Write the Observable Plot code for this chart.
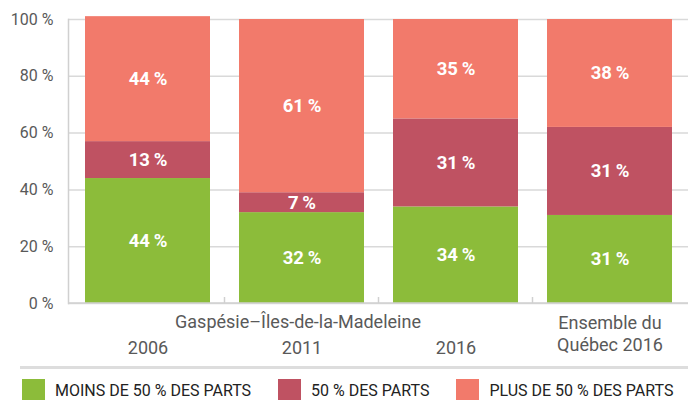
<!DOCTYPE html>
<html><head><meta charset="utf-8">
<script src="https://cdn.jsdelivr.net/npm/d3@7"></script>
<script src="https://cdn.jsdelivr.net/npm/@observablehq/plot@0.6"></script>
<style>
body{margin:0;background:#fff;font-family:Roboto,sans-serif;width:688px;overflow:hidden}
.sep{margin-left:20px;border-top:3px solid #ddd;margin-top:4px}
.legend{display:flex;gap:27px;padding-left:22px;margin-top:10px;align-items:center}
.item{display:flex;align-items:center;gap:10px;font-size:16px;color:#222}
.sw{width:23px;height:23px}
</style></head><body>
<div id="chart"></div>
<div class="sep"></div>
<div class="legend" id="legend"></div>
<script>
const categories = ["2006", "2011", "2016", "Québec"];
const xLabels = ["2006", "2011", "2016", "Ensemble du\nQuébec 2016"];
const regionLabel = "Gaspésie–Îles-de-la-Madeleine";
const series = ["MOINS DE 50 % DES PARTS", "50 % DES PARTS", "PLUS DE 50 % DES PARTS"];
const colors = ["#8CBC3A", "#BF5262", "#F27A6B"];
const moins = [44, 32, 34, 31];
const cinquante = [13, 7, 31, 31];
const plus = [44, 61, 35, 38];
const yTicks = [0, 20, 40, 60, 80, 100];

const values = [moins, cinquante, plus];
const rows = categories.flatMap((c, i) => series.map((s, j) => ({cat: c, series: s, value: values[j][i]})));
const labelRows = categories.map((c, i) => ({cat: c, label: xLabels[i]}));

const chart = Plot.plot({
  width: 688, height: 362,
  marginLeft: 68, marginRight: 0, marginTop: 19, marginBottom: 59,
  style: {fontFamily: "Roboto, sans-serif", fontSize: "16px", background: "#fff"},
  x: {domain: categories, paddingInner: 0.19, paddingOuter: 0.1, axis: null},
  y: {domain: [0, 100], axis: null},
  color: {domain: series, range: colors},
  marks: [
    Plot.ruleY(yTicks, {stroke: "#d9d9d9", strokeWidth: 1.5}),
    Plot.frame({anchor: "left", stroke: "#d0d0d0", strokeWidth: 1.5}),
    Plot.axisY(yTicks, {label: null, tickSize: 0, tickPadding: 15, tickFormat: d => d + " %", fontSize: 16, fill: "#595959"}),
    Plot.barY(rows, {x: "cat", y: "value", fill: "series"}),
    Plot.textY(rows, Plot.stackY({x: "cat", y: "value", z: "series", text: d => d.value + "\u2009%", fill: "white", fontWeight: "bold", fontSize: 18.5})),
    Plot.text(labelRows.filter(d => d.cat !== "Québec"), {x: "cat", y: 0, text: "label", lineAnchor: "bottom", dy: 50, fontSize: 18, fill: "#595959"}),
    Plot.text(labelRows.filter(d => d.cat === "Québec"), {x: "cat", y: 0, text: "label", lineAnchor: "bottom", dy: 47, lineHeight: 1.22, fontSize: 18, fill: "#595959"}),
    Plot.text([regionLabel], {x: [categories[1]], y: [0], text: d => d, lineAnchor: "bottom", dy: 24, dx: -4, fontSize: 18, fill: "#595959"})
  ]
});
document.getElementById("chart").append(chart);

// boundary ticks between bands, placed with the library's scales
const xs = chart.scale("x"), ys = chart.scale("y");
const y0 = ys.apply(0);
const svg = d3.select(chart);
categories.slice(0, -1).forEach(c => {
  const bx = xs.apply(c) + xs.bandwidth + (xs.step - xs.bandwidth) / 2;
  svg.append("line").attr("x1", bx).attr("x2", bx).attr("y1", y0 - 6).attr("y2", y0)
    .attr("stroke", "#d0d0d0").attr("stroke-width", 1.5);
});
svg.append("line").attr("x1", xs.range[0]).attr("x2", xs.range[1]).attr("y1", y0).attr("y2", y0)
  .attr("stroke", "#d0d0d0").attr("stroke-width", 1.5);

const legend = document.getElementById("legend");
series.forEach((s, i) => {
  const it = document.createElement("div"); it.className = "item";
  const sw = document.createElement("div"); sw.className = "sw"; sw.style.background = colors[i];
  const t = document.createElement("span"); t.textContent = s;
  it.append(sw, t); legend.append(it);
});
</script>
</body></html>
